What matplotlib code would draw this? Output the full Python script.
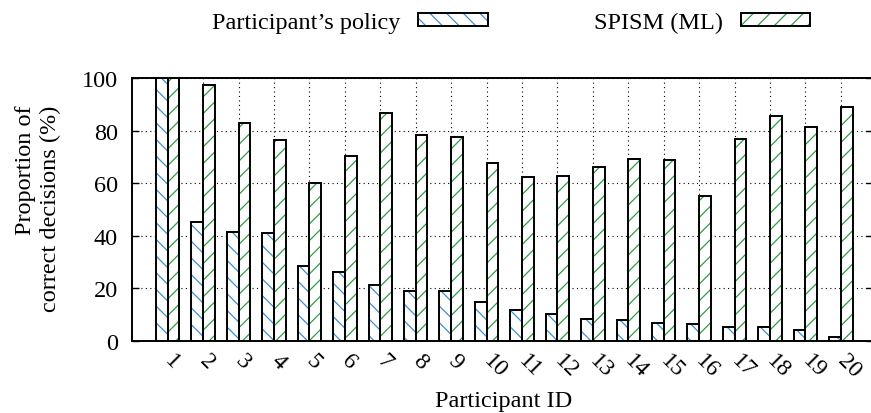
import matplotlib
matplotlib.use("Agg")
import matplotlib.pyplot as plt
import numpy as np
from matplotlib.patches import Patch
from matplotlib.legend_handler import HandlerTuple

# ---- data ----
participant_ids = [str(i) for i in range(1, 21)]
participant_policy = [100, 45.3, 41.3, 41.0, 28.6, 26.0, 21.2, 18.9, 18.9, 14.9,
                      11.6, 10.3, 8.3, 8.0, 6.6, 6.2, 5.3, 5.3, 4.2, 1.3]
spism_ml = [100, 97.5, 82.7, 76.4, 60.0, 70.4, 86.6, 78.3, 77.7, 67.8,
            62.4, 62.8, 66.2, 69.3, 68.7, 55.1, 76.9, 85.7, 81.2, 89.1]
series_labels = ["Participant\u2019s policy", "SPISM (ML)"]
yticks = [0, 20, 40, 60, 80, 100]

blue_hatch = "#3d8fd6"
green_hatch = "#2f9e47"

plt.rcParams['font.family'] = ['Liberation Serif', 'DejaVu Serif']
plt.rcParams['hatch.linewidth'] = 0.9

W, H = 871, 414
fig = plt.figure(figsize=(W / 100, H / 100), dpi=100)
ax = fig.add_axes([131.7 / W, 1 - 341.7 / H, (873 - 131.7) / W, (341.7 - 79) / H])

x = np.arange(1, len(participant_ids) + 1)
bw = 0.33

def hatched_bars(xpos, vals, hatch, hcolor):
    ax.bar(xpos, vals, bw, color='white', edgecolor=hcolor, hatch=hatch,
           linewidth=0, zorder=2)
    ax.bar(xpos, vals, bw, fill=False, edgecolor='black', linewidth=1.4, zorder=3)

hatched_bars(x - bw / 2, participant_policy, '\\\\', blue_hatch)
hatched_bars(x + bw / 2, spism_ml, '//', green_hatch)

ax.set_xlim(-0.016, 20.906)
ax.set_ylim(0, 100)
ax.set_yticks(yticks)
ax.set_xticks(x)
ax.set_xticklabels(participant_ids, rotation=-45, ha='left', va='center',
                   rotation_mode='anchor', fontsize=17)
ax.tick_params(axis='y', direction='in', length=5, width=1, labelsize=17.5, pad=10,
               right=True)
ax.tick_params(axis='x', length=0, pad=12)
for s in ax.spines.values():
    s.set_linewidth(1.4)

ax.grid(True, color='black', linestyle=(0, (1, 3)), linewidth=0.8, zorder=0)
ax.set_axisbelow(True)

fig.text(38 / W, 1 - 209 / H, "Proportion of\ncorrect decisions (%)",
         rotation=90, ha='center', va='center', multialignment='right',
         fontsize=17.5, linespacing=1.2)
fig.text(504 / W, 1 - 402 / H, "Participant ID", ha='center', va='center',
         fontsize=17.5)

handles = []
for hatch, hc in [('\\\\', blue_hatch), ('//', green_hatch)]:
    h1 = Patch(facecolor='white', edgecolor=hc, hatch=hatch, linewidth=0)
    h2 = Patch(fill=False, edgecolor='black', linewidth=1.4)
    handles.append((h1, h2))
fig.legend(handles, series_labels, loc='center', bbox_to_anchor=(511 / W, 1 - 23.5 / H),
           ncol=2, frameon=False, markerfirst=False, fontsize=17.5,
           handlelength=2.86, handleheight=0.48, handletextpad=0.75,
           columnspacing=4.35, borderpad=0, borderaxespad=0,
           handler_map={tuple: HandlerTuple(ndivide=1, pad=0)})

fig.savefig("out.png", dpi=100)
